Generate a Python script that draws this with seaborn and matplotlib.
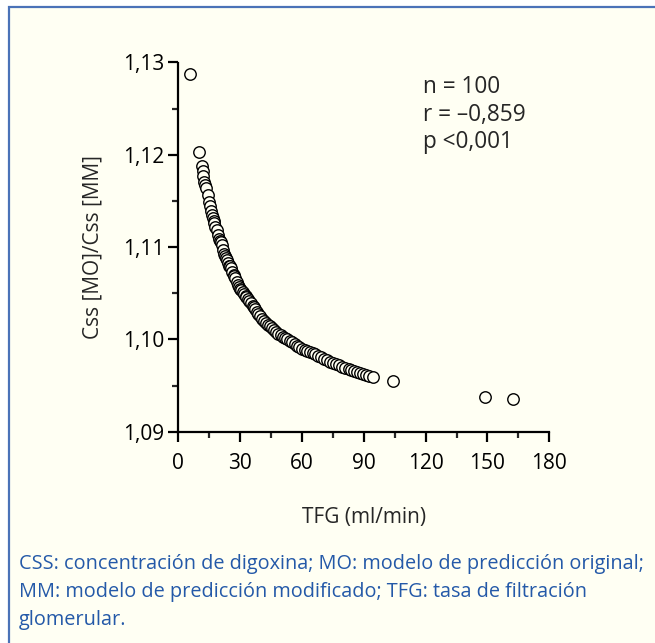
import matplotlib
matplotlib.use("Agg")
import matplotlib.pyplot as plt
import matplotlib.patches as mpatches
from matplotlib.ticker import MultipleLocator, FuncFormatter
import pandas as pd
import seaborn as sns

# TFG (ml/min)
tfg = [
    5.8, 10.2, 11.4, 11.8, 12.2, 12.6, 13.0, 13.4, 14.2, 14.9,
    15.3, 15.9, 16.4, 16.8, 17.2, 17.5, 18.0, 18.6, 19.2, 19.8,
    20.2, 20.5, 21.0, 21.8, 22.4, 22.9, 23.2, 23.6, 24.2, 24.8,
    25.0, 25.5, 26.2, 26.8, 27.0, 27.5, 28.3, 29.0, 29.6, 30.0,
    30.4, 31.2, 32.0, 32.8, 33.0, 33.6, 34.4, 35.3, 36.2, 36.6,
    37.0, 38.0, 38.8, 39.8, 40.7, 41.6, 42.6, 43.6, 44.5, 45.5,
    46.6, 47.6, 48.6, 49.6, 50.8, 51.8, 52.9, 54.0, 55.2, 56.4,
    57.6, 58.8, 60.0, 61.3, 62.6, 63.8, 65.2, 66.5, 67.8, 69.2,
    70.6, 72.0, 73.5, 75.0, 76.5, 78.0, 79.5, 81.0, 82.6, 84.0,
    85.2, 86.5, 88.0, 89.5, 91.0, 92.5, 94.5, 104.0, 148.8, 162.5,
]
# Css [MO]/Css [MM]
ratio = [
    1.1287, 1.1203, 1.1188, 1.1182, 1.1177, 1.1171, 1.1167, 1.1164, 1.1156, 1.1149,
    1.1145, 1.1139, 1.1135, 1.1132, 1.1128, 1.1126, 1.1122, 1.1118, 1.1113, 1.1109,
    1.1107, 1.1105, 1.1102, 1.1097, 1.1093, 1.1090, 1.1088, 1.1086, 1.1083, 1.1080,
    1.1079, 1.1077, 1.1073, 1.1070, 1.1069, 1.1066, 1.1062, 1.1059, 1.1057, 1.1055,
    1.1054, 1.1051, 1.1049, 1.1047, 1.1046, 1.1044, 1.1042, 1.1039, 1.1036, 1.1035,
    1.1033, 1.1030, 1.1027, 1.1025, 1.1022, 1.1020, 1.1018, 1.1016, 1.1014, 1.1012,
    1.1010, 1.1008, 1.1006, 1.1005, 1.1003, 1.1002, 1.1000, 1.0998, 1.0997, 1.0995,
    1.0993, 1.0992, 1.0990, 1.0988, 1.0987, 1.0986, 1.0985, 1.0984, 1.0982, 1.0981,
    1.0979, 1.0978, 1.0976, 1.0974, 1.0973, 1.0972, 1.0970, 1.0969, 1.0968, 1.0967,
    1.0966, 1.0965, 1.0964, 1.0962, 1.0961, 1.0960, 1.0959, 1.0955, 1.0938, 1.0935,
]

stats_lines = ["n = 100", "r = \u20130,859", "p <0,001"]
caption_lines = [
    "CSS: concentración de digoxina; MO: modelo de predicción original;",
    "MM: modelo de predicción modificado; TFG: tasa de filtración",
    "glomerular.",
]

BG = "#FFFFF3"
BLUE_TEXT = "#2459A8"
BORDER = "#4A72B8"

sns.set_style("ticks")
plt.rcParams["font.family"] = ["Open Sans", "DejaVu Sans"]

W, H = 655, 643
fig = plt.figure(figsize=(W / 100, H / 100), dpi=100)
fig.patch.set_facecolor("white")

# panel with blue frame (top and left edges visible)
frame = mpatches.Rectangle(
    (8.5 / W, -0.05), 1.1, (H - 6.5) / H + 0.05,
    transform=fig.transFigure, facecolor=BG, edgecolor=BORDER, linewidth=1.6,
    zorder=-10,
)
fig.patches.append(frame)

ax = fig.add_axes([178.3 / W, (H - 431.7) / H, (549.3 - 178.3) / W, (431.7 - 62.5) / H])
ax.set_facecolor(BG)
ax.set_zorder(1)

df = pd.DataFrame({"TFG": tfg, "Css": ratio})
sns.scatterplot(
    data=df, x="TFG", y="Css", ax=ax, s=68, marker="o",
    facecolor=BG, edgecolor="black", linewidth=1.0, clip_on=False, zorder=3,
)

ax.set_xlim(0, 180)
ax.set_ylim(1.09, 1.13)
ax.xaxis.set_major_locator(MultipleLocator(30))
ax.xaxis.set_minor_locator(MultipleLocator(15))
ax.yaxis.set_major_locator(MultipleLocator(0.01))
ax.yaxis.set_minor_locator(MultipleLocator(0.005))
ax.yaxis.set_major_formatter(FuncFormatter(lambda v, p: f"{v:.2f}".replace(".", ",")))

for side in ["top", "right"]:
    ax.spines[side].set_visible(False)
for side in ["left", "bottom"]:
    ax.spines[side].set_linewidth(1.6)
    ax.spines[side].set_color("black")

ax.tick_params(axis="both", which="major", direction="out", length=7, width=1.6,
               labelsize=15, colors="black")
ax.tick_params(axis="x", which="major", pad=8)
ax.tick_params(axis="y", which="major", pad=3)
ax.tick_params(axis="both", which="minor", direction="out", length=4, width=1.6)

ax.set_xlabel("TFG (ml/min)", fontsize=15, labelpad=24)
ax.set_ylabel("Css [MO]/Css [MM]", fontsize=15, labelpad=14)

for i, line in enumerate(stats_lines):
    fig.text(423 / W, 1 - (87 + 27.5 * i) / H, line, fontsize=16.3, va="center", ha="left")

for i, line in enumerate(caption_lines):
    fig.text(19 / W, 1 - (564.5 + 27.5 * i) / H, line, fontsize=14.3, va="center",
             ha="left", color=BLUE_TEXT)

fig.savefig("out.png", dpi=100, facecolor=fig.get_facecolor())
